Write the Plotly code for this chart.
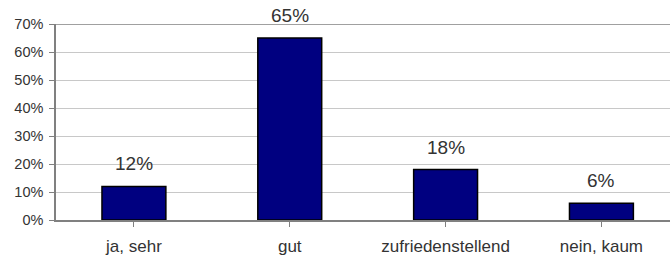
import plotly.graph_objects as go

categories = ["ja, sehr", "gut", "zufriedenstellend", "nein, kaum"]
values = [12, 65, 18, 6]
y_ticks = [0, 10, 20, 30, 40, 50, 60, 70]
y_tick_labels = [f"{v}%" for v in y_ticks]
value_labels = [f"{v}%" for v in values]

fig = go.Figure()
fig.add_trace(go.Bar(
    x=list(range(len(categories))), y=values, width=0.41,
    marker=dict(color="#000080", line=dict(color="#000000", width=1.5)),
    hoverinfo="skip",
))
for i, (v, t) in enumerate(zip(values, value_labels)):
    fig.add_annotation(x=i, y=v, text=t, showarrow=False, yanchor="bottom",
                       yshift=10, font=dict(family="Liberation Sans, Arial", size=19, color="#333333"))

fig.update_layout(
    width=670, height=259,
    margin=dict(l=55.5, r=0, t=24, b=39, autoexpand=False),
    paper_bgcolor="white", plot_bgcolor="white",
    showlegend=False,
    font=dict(family="Liberation Sans, Arial", size=12, color="#333333"),
)
fig.update_xaxes(
    range=[-0.5, 3.44], automargin=False,
    tickmode="array", tickvals=list(range(len(categories))), ticktext=categories,
    tickson="boundaries", ticks="outside", ticklen=5, tickcolor="#808080",
    showline=True, linecolor="#808080", linewidth=1.5,
    showgrid=False, ticklabelstandoff=5,
    tickfont=dict(size=17),
)
fig.update_yaxes(
    range=[0, 70], automargin=False,
    tickmode="array", tickvals=y_ticks, ticktext=y_tick_labels,
    ticks="outside", ticklen=5, tickcolor="#808080",
    showline=True, linecolor="#808080", linewidth=1.5,
    showgrid=True, gridcolor="#c8c8c8", gridwidth=1,
    tickfont=dict(size=14.5), ticklabelstandoff=3,
    zeroline=False,
)
fig.add_shape(type="line", xref="paper", yref="y", x0=0, x1=1, y0=70, y1=70,
              line=dict(color="#808080", width=1.5))
fig.write_html("out.html", config={"displayModeBar": False},
               post_script="document.body.style.margin='0';document.body.style.overflow='hidden';")
